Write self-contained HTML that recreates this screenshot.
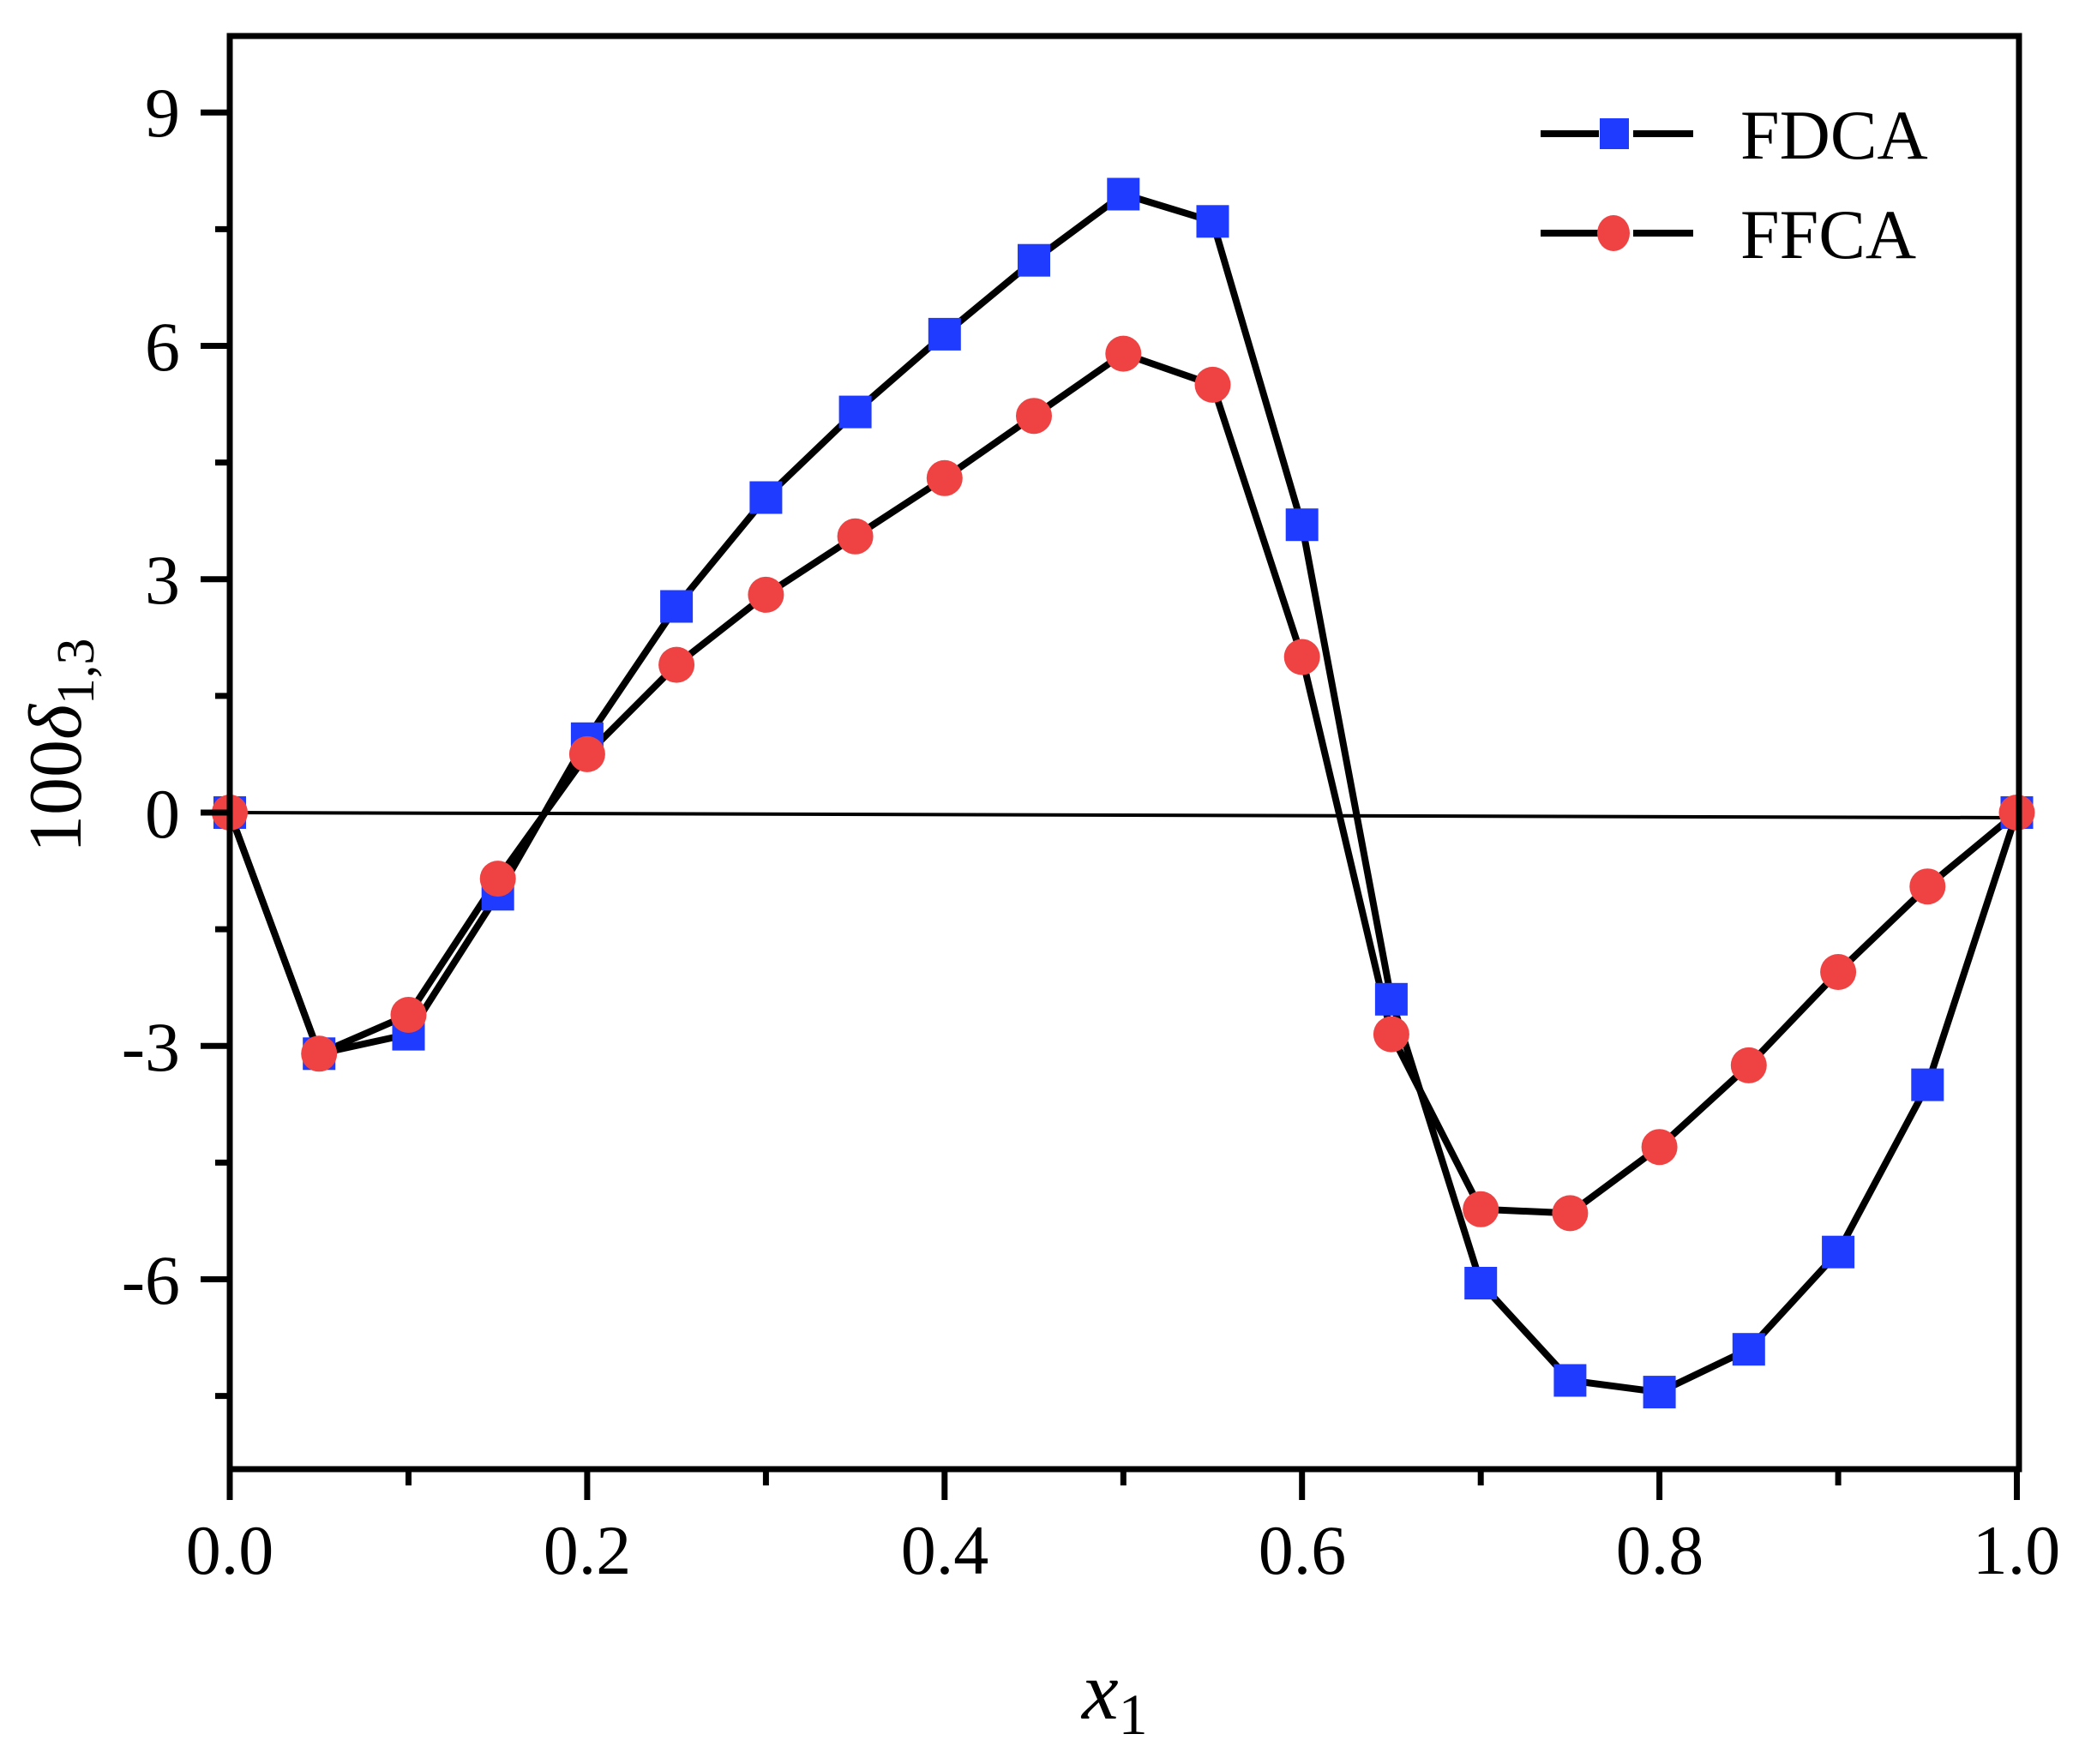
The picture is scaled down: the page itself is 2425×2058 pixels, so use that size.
<!DOCTYPE html>
<html><head><meta charset="utf-8"><style>html,body{margin:0;padding:0;background:#fff}svg{display:block}</style></head>
<body>
<svg width="2425" height="2058" viewBox="0 0 2425 2058" xmlns="http://www.w3.org/2000/svg" font-family="Liberation Serif, serif">
<defs>
<rect id="s" x="-19" y="-19" width="38" height="38" fill="#1f3bff"/>
<circle id="c" cx="0" cy="0" r="21" fill="#ef4343"/>
</defs>
<rect width="2425" height="2058" fill="#fff"/>
<line x1="268" y1="948" x2="2352" y2="954" stroke="#000" stroke-width="4"/>
<g fill="none" stroke="#000" stroke-width="8" stroke-linejoin="round">
<polyline points="268,948 372.2,1229.3 476.5,1206.6 580.7,1043.3 684.9,861.8 789.1,707.5 893.4,580.5 997.6,480.6 1101.8,389.9 1206,303.7 1310.3,226.5 1414.5,258.3 1518.7,612.2 1622.9,1165.8 1727.2,1497 1831.4,1610.5 1935.6,1624.1 2039.8,1574.2 2144.1,1460.7 2248.3,1265.6 2352.5,948"/>
<polyline points="268,948 372.2,1229.3 476.5,1184 580.7,1025.1 684.9,879.9 789.1,775.6 893.4,693.9 997.6,625.8 1101.8,557.8 1206,485.2 1310.3,412.6 1414.5,448.9 1518.7,766.5 1622.9,1206.6 1727.2,1410.8 1831.4,1415.4 1935.6,1338.2 2039.8,1242.9 2144.1,1134 2248.3,1034.2 2352.5,948"/>
</g>
<use href="#s" x="268" y="948"/><use href="#s" x="372.2" y="1229.3"/><use href="#s" x="476.5" y="1206.6"/><use href="#s" x="580.7" y="1043.3"/><use href="#s" x="684.9" y="861.8"/><use href="#s" x="789.1" y="707.5"/><use href="#s" x="893.4" y="580.5"/><use href="#s" x="997.6" y="480.6"/><use href="#s" x="1101.8" y="389.9"/><use href="#s" x="1206" y="303.7"/><use href="#s" x="1310.3" y="226.5"/><use href="#s" x="1414.5" y="258.3"/><use href="#s" x="1518.7" y="612.2"/><use href="#s" x="1622.9" y="1165.8"/><use href="#s" x="1727.2" y="1497"/><use href="#s" x="1831.4" y="1610.5"/><use href="#s" x="1935.6" y="1624.1"/><use href="#s" x="2039.8" y="1574.2"/><use href="#s" x="2144.1" y="1460.7"/><use href="#s" x="2248.3" y="1265.6"/><use href="#s" x="2352.5" y="948"/>
<use href="#c" x="268" y="948"/><use href="#c" x="372.2" y="1229.3"/><use href="#c" x="476.5" y="1184"/><use href="#c" x="580.7" y="1025.1"/><use href="#c" x="684.9" y="879.9"/><use href="#c" x="789.1" y="775.6"/><use href="#c" x="893.4" y="693.9"/><use href="#c" x="997.6" y="625.8"/><use href="#c" x="1101.8" y="557.8"/><use href="#c" x="1206" y="485.2"/><use href="#c" x="1310.3" y="412.6"/><use href="#c" x="1414.5" y="448.9"/><use href="#c" x="1518.7" y="766.5"/><use href="#c" x="1622.9" y="1206.6"/><use href="#c" x="1727.2" y="1410.8"/><use href="#c" x="1831.4" y="1415.4"/><use href="#c" x="1935.6" y="1338.2"/><use href="#c" x="2039.8" y="1242.9"/><use href="#c" x="2144.1" y="1134"/><use href="#c" x="2248.3" y="1034.2"/><use href="#c" x="2352.5" y="948"/>
<rect x="268" y="42" width="2087" height="1672" fill="none" stroke="#000" stroke-width="7"/>
<g stroke="#000" stroke-width="7">
<line x1="234" y1="131.3" x2="268" y2="131.3"/><line x1="234" y1="403.5" x2="268" y2="403.5"/><line x1="234" y1="675.8" x2="268" y2="675.8"/><line x1="234" y1="948" x2="268" y2="948"/><line x1="234" y1="1220.3" x2="268" y2="1220.3"/><line x1="234" y1="1492.5" x2="268" y2="1492.5"/>
<line x1="251" y1="267.4" x2="268" y2="267.4"/><line x1="251" y1="539.6" x2="268" y2="539.6"/><line x1="251" y1="811.9" x2="268" y2="811.9"/><line x1="251" y1="1084.1" x2="268" y2="1084.1"/><line x1="251" y1="1356.4" x2="268" y2="1356.4"/><line x1="251" y1="1628.6" x2="268" y2="1628.6"/>
<line x1="268" y1="1714" x2="268" y2="1750"/><line x1="684.9" y1="1714" x2="684.9" y2="1750"/><line x1="1101.8" y1="1714" x2="1101.8" y2="1750"/><line x1="1518.7" y1="1714" x2="1518.7" y2="1750"/><line x1="1935.6" y1="1714" x2="1935.6" y2="1750"/><line x1="2352.5" y1="1714" x2="2352.5" y2="1750"/>
<line x1="476.5" y1="1714" x2="476.5" y2="1733"/><line x1="893.4" y1="1714" x2="893.4" y2="1733"/><line x1="1310.3" y1="1714" x2="1310.3" y2="1733"/><line x1="1727.2" y1="1714" x2="1727.2" y2="1733"/><line x1="2144.1" y1="1714" x2="2144.1" y2="1733"/>
</g>
<g font-size="82" text-anchor="end" fill="#000">
<text x="210" y="159">9</text><text x="210" y="432">6</text><text x="210" y="704">3</text><text x="210" y="977">0</text><text x="210" y="1249">-3</text><text x="210" y="1521">-6</text>
</g>
<g font-size="82" text-anchor="middle" fill="#000">
<text x="268" y="1836">0.0</text><text x="685" y="1836">0.2</text><text x="1102" y="1836">0.4</text><text x="1519" y="1836">0.6</text><text x="1936" y="1836">0.8</text><text x="2352" y="1836">1.0</text>
</g>
<text transform="translate(94,995) rotate(-90)" font-size="88" fill="#000">100<tspan font-style="italic">δ</tspan><tspan font-size="62" dy="15">1,3</tspan></text>
<text x="1262" y="2005" font-size="96" font-style="italic" fill="#000">x<tspan font-style="normal" font-size="68" dy="18">1</tspan></text>
<g stroke="#000" stroke-width="8">
<line x1="1797" y1="156" x2="1865" y2="156"/><line x1="1905" y1="156" x2="1975" y2="156"/>
<line x1="1797" y1="272" x2="1865" y2="272"/><line x1="1905" y1="272" x2="1975" y2="272"/>
</g>
<rect x="1866" y="138" width="34" height="36" fill="#1f3bff"/>
<ellipse cx="1882" cy="272" rx="19" ry="21" fill="#ef4343"/>
<g font-size="82" fill="#000"><text x="2030" y="185">FDCA</text><text x="2030" y="301">FFCA</text></g>
</svg>
</body></html>
